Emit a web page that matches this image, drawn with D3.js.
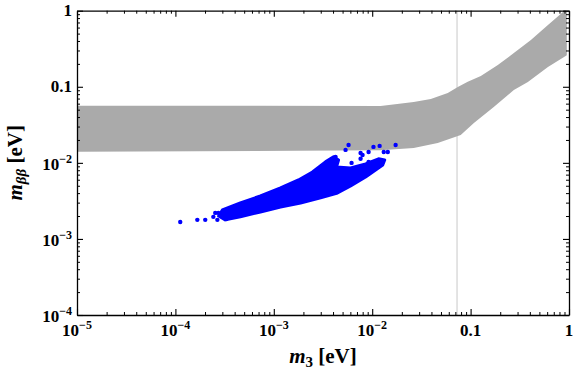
<!DOCTYPE html>
<html>
<head>
<meta charset="utf-8">
<script src="https://cdn.jsdelivr.net/npm/d3@7"></script>
<style>
  body { margin: 0; background: #fff; }
  text { font-family: "Liberation Serif", "DejaVu Serif", serif; font-weight: bold; fill: #000; }
</style>
</head>
<body>
<div class="canvas"></div>
<script>
// gray band: upper edge (left -> right), lower edge (right -> left)
const bandUpperX = [1e-5, 0.0122, 0.0264, 0.0394, 0.0586, 0.0741, 0.0935, 0.127, 0.189, 0.275, 0.410, 0.611, 0.869, 0.90, 0.95];
const bandUpperY = [0.0565, 0.056, 0.0631, 0.0692, 0.0829, 0.0993, 0.116, 0.139, 0.193, 0.278, 0.412, 0.649, 0.962, 1, 1];
const bandLowerX = [0.95, 0.89, 0.611, 0.382, 0.275, 0.172, 0.108, 0.0794, 0.0463, 0.0264, 0.0122, 1e-5];
const bandLowerY = [0.26, 0.246, 0.182, 0.1156, 0.0908, 0.0543, 0.0334, 0.0233, 0.0183, 0.0157, 0.0146, 0.0140];

// dense part of the blue scan (outline)
const cloudX = [2.75e-4, 3.00e-4, 4.57e-4, 7.31e-4, 1.17e-3, 1.78e-3, 2.47e-3, 3.35e-3, 4.05e-3, 4.55e-3, 4.34e-3, 6.03e-3, 8.57e-3, 1.16e-2, 1.34e-2,
                1.28e-2, 8.57e-3, 6.03e-3, 4.44e-3, 2.99e-3, 1.87e-3, 1.17e-3, 7.31e-4, 4.57e-4, 3.21e-4];
const cloudY = [2.00e-3, 2.40e-3, 2.97e-3, 3.67e-3, 4.68e-3, 5.96e-3, 7.59e-3, 1.03e-2, 1.20e-2, 1.09e-2, 8.84e-3, 8.57e-3, 9.68e-3, 1.13e-2, 1.09e-2,
                9.39e-3, 6.53e-3, 4.97e-3, 4.02e-3, 3.46e-3, 2.97e-3, 2.63e-3, 2.26e-3, 1.95e-3, 1.78e-3];

// loose points of the scan
const dotsX = [1.12e-4, 1.67e-4, 2.01e-4, 2.67e-4, 2.54e-4, 2.73e-4, 3.45e-4, 3.61e-4, 2.43e-4, 3.00e-4, 3.29e-4, 3.88e-4,
               5.75e-3, 5.36e-3, 4.24e-3, 3.95e-3, 7.62e-3, 7.98e-3, 9.19e-3, 1.03e-2, 1.19e-2, 1.31e-2, 1.44e-2, 1.73e-2,
               6.17e-3, 7.62e-3, 9.19e-3];
const dotsY = [1.67e-3, 1.78e-3, 1.78e-3, 1.78e-3, 2.20e-3, 2.20e-3, 2.07e-3, 1.89e-3, 1.95e-3, 2.20e-3, 1.83e-3, 2.33e-3,
               1.72e-2, 1.48e-2, 1.20e-2, 1.09e-2, 1.35e-2, 1.27e-2, 1.39e-2, 1.62e-2, 1.67e-2, 1.39e-2, 1.39e-2, 1.72e-2,
               9.98e-3, 1.13e-2, 1.03e-2];

const vLineX = 0.0728;

const xTicks = [1e-5, 1e-4, 1e-3, 1e-2, 0.1, 1];
const xTickLabels = [["10", "\u22125"], ["10", "\u22124"], ["10", "\u22123"], ["10", "\u22122"], ["0.1", ""], ["1", ""]];
const yTicks = [1e-4, 1e-3, 1e-2, 0.1, 1];
const yTickLabels = [["10", "\u22124"], ["10", "\u22123"], ["10", "\u22122"], ["0.1", ""], ["1", ""]];

const pLeft = 77, pRight = 569, pTop = 10.7, pBottom = 315;

const svg = d3.select('.canvas')
  .append('svg')
  .attr('width', 576)
  .attr('height', 370)

const x = d3.scaleLog().domain([1e-5, 1]).range([pLeft, pRight]);
const y = d3.scaleLog().domain([1e-4, 1]).range([pBottom, pTop]);

svg.append('clipPath')
  .attr('id', 'plot')
  .append('rect')
  .attr('x', pLeft)
  .attr('y', pTop)
  .attr('width', pRight - pLeft)
  .attr('height', pBottom - pTop)

const plot = svg.append('g').attr('clip-path', 'url(#plot)');

plot.append('line')
  .attr('x1', x(vLineX))
  .attr('x2', x(vLineX))
  .attr('y1', pTop)
  .attr('y2', pBottom)
  .attr('stroke', '#c8c8c8')
  .attr('stroke-width', 1)

const bandPts = bandUpperX.map((d, i) => [d, bandUpperY[i]])
  .concat(bandLowerX.map((d, i) => [d, bandLowerY[i]]));

plot.append('path')
  .attr('d', d3.line().x(d => x(d[0])).y(d => y(d[1]))(bandPts) + 'Z')
  .attr('fill', '#aaaaaa')

const cloudPts = cloudX.map((d, i) => [d, cloudY[i]]);

plot.append('path')
  .attr('d', d3.line().x(d => x(d[0])).y(d => y(d[1]))(cloudPts) + 'Z')
  .attr('fill', '#0000ff')
  .attr('stroke', '#0000ff')
  .attr('stroke-width', 3)
  .attr('stroke-linejoin', 'round')

plot.selectAll('circle')
  .data(dotsX.map((d, i) => [d, dotsY[i]]))
  .join('circle')
  .attr('cx', d => x(d[0]))
  .attr('cy', d => y(d[1]))
  .attr('r', 2.2)
  .attr('fill', '#0000ff')

// minor tick positions, 2..9 in each decade
const minors = (lo, hi) => {
  const out = [];
  for (let e = lo; e < hi; e++) {
    for (let k = 2; k <= 9; k++) out.push(k * Math.pow(10, e));
  }
  return out;
};
const xMinor = minors(-5, 0);
const yMinor = minors(-4, 0);

const axes = [
  [d3.axisBottom(x), `translate(0,${pBottom})`, xTicks, xMinor],
  [d3.axisTop(x), `translate(0,${pTop})`, xTicks, xMinor],
  [d3.axisLeft(y), `translate(${pLeft},0)`, yTicks, yMinor],
  [d3.axisRight(y), `translate(${pRight},0)`, yTicks, yMinor]
];

axes.forEach(([ax, tr, major, minor]) => {
  svg.append('g')
    .attr('transform', tr)
    .call(ax.tickValues(minor).tickSizeInner(-3).tickSizeOuter(0).tickFormat(''))
    .call(g => g.select('.domain').remove())
    .selectAll('line').attr('stroke', '#000').attr('stroke-width', 1)

  svg.append('g')
    .attr('transform', tr)
    .call(ax.tickValues(major).tickSizeInner(-6).tickSizeOuter(0).tickFormat(''))
    .call(g => g.select('.domain').attr('stroke', '#000').attr('stroke-width', 1.3))
    .selectAll('line').attr('stroke', '#000').attr('stroke-width', 1.1)
});

// tick labels
const xl = svg.append('g').selectAll('text')
  .data(xTicks)
  .join('text')
  .attr('x', d => x(d))
  .attr('y', 336)
  .attr('text-anchor', 'middle')
  .style('font-size', '17px')

xl.append('tspan').text((d, i) => xTickLabels[i][0]);
xl.append('tspan')
  .attr('dy', -7)
  .style('font-size', '12px')
  .text((d, i) => xTickLabels[i][1]);

const yl = svg.append('g').selectAll('text')
  .data(yTicks)
  .join('text')
  .attr('x', 72)
  .attr('y', (d, i) => y(d) + (yTickLabels[i][1] ? 7 : 5))
  .attr('text-anchor', 'end')
  .style('font-size', '17px')

yl.append('tspan').text((d, i) => yTickLabels[i][0]);
yl.append('tspan')
  .attr('dy', -7)
  .style('font-size', '12px')
  .text((d, i) => yTickLabels[i][1]);

// axis titles
const xTitle = svg.append('text')
  .attr('x', (pLeft + pRight) / 2)
  .attr('y', 363)
  .attr('text-anchor', 'middle')
  .style('font-size', '21px')
xTitle.append('tspan').style('font-style', 'italic').text('m');
xTitle.append('tspan').attr('dy', 4).style('font-size', '15px').text('3');
xTitle.append('tspan').attr('dy', -4).text(' [eV]');

const yTitle = svg.append('text')
  .attr('transform', `translate(22,${(pTop + pBottom) / 2}) rotate(-90)`)
  .attr('text-anchor', 'middle')
  .style('font-size', '21px')
yTitle.append('tspan').style('font-style', 'italic').text('m');
yTitle.append('tspan').attr('dy', 4).style('font-size', '15px').style('font-style', 'italic').text('\u03b2\u03b2');
yTitle.append('tspan').attr('dy', -4).text(' [eV]');
</script>
</body>
</html>
